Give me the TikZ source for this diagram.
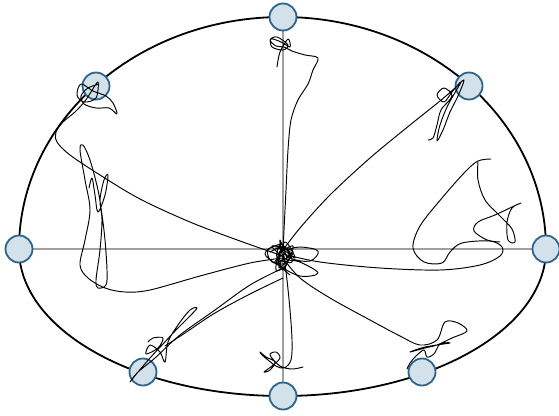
\documentclass[tikz,border=0pt]{standalone}
\begin{document}
\begin{tikzpicture}[x=1pt,y=-1pt,
  walk/.style={line width=0.95pt, line join=round, line cap=round},
  outline/.style={line width=1.8pt},
  axis/.style={line width=1.7pt, draw={rgb,255:red,160;green,160;blue,160}},
  station/.style={circle, minimum size=27pt, inner sep=0pt, line width=1.8pt,
     draw={rgb,255:red,45;green,100;blue,138}, fill={rgb,255:red,211;green,225;blue,235}}]
\useasboundingbox (0,0) rectangle (559,415);
% outline
\draw[outline] (19,249) arc[start angle=180, end angle=0, x radius=263.5pt, y radius=232pt];
\draw[outline] (19,249) arc[start angle=180, end angle=360, x radius=263.5pt, y radius=147pt];
% axes
\coordinate (c) at (283,249);
\draw[axis] (19,249) -- (546,249);
\draw[axis] (283,17) -- (283,396);
% stations
\node[station] (n) at (283,17) {};
\node[station] (nw) at (96,86) {};
\node[station] (ne) at (469,86) {};
\node[station] (w) at (19,249) {};
\node[station] (e) at (546,249) {};
\node[station] (sw) at (143,372) {};
\node[station] (s) at (283,396) {};
\node[station] (se) at (422,372) {};
% walks
% top
\draw[walk] plot[smooth, tension=0.55] coordinates {(283,250) (284,230) (286,190) (288,150) (291,120) (298,100) (308,84) (313,70) (318,58) (305,55) (292,51) (284,47) (276,46) (270,40) (277,37) (288,45) (283,50) (272,47) (271,39) (281,42) (290,47) (288,39) (280,52) (277,67)};
% upper right
\draw[walk] plot[smooth, tension=0.55] coordinates {(283,250) (300,228) (330,195) (370,158) (410,125) (440,101) (455,88) (464,80) (458,96) (450,112) (443,130) (437,141) (440,125) (448,105) (461,82) (452,92) (444,102) (437,95) (444,88) (452,96) (441,110) (437,125) (433,138) (428,140)};
% upper left
\draw[walk] plot[smooth, tension=0.55] coordinates {(283,256) (240,241) (190,222) (140,199) (100,175) (70,155) (57,142) (56,132) (63,122) (75,112) (85,101) (91,92) (98,82) (96,98) (84,102) (77,95) (81,84) (93,91) (106,96) (113,103) (117,114) (109,108) (96,108) (84,104) (81,96) (88,88) (99,84)};
% left
\draw[walk] plot[smooth, tension=0.55] coordinates {(283,258) (250,263) (200,276) (150,290) (125,292) (105,288) (88,278) (80,265) (85,240) (90,210) (85,180) (80,150) (83,145) (90,160) (98,190) (102,215) (105,240) (107,270) (106,285) (98,288) (96,280) (100,250) (102,220) (100,200) (104,180) (108,175) (105,195) (98,212) (95,195) (92,178) (89,188)};
% right
\draw[walk] plot[smooth, tension=0.55] coordinates {(283,254) (320,262) (380,268) (440,270) (480,265) (500,256) (502,247) (490,241) (462,243) (450,252) (442,263) (424,262) (413,248) (420,226) (442,198) (465,172) (478,161) (491,159)};
\draw[walk] plot[smooth, tension=0.55] coordinates {(478,162) (478,180) (485,200) (500,216) (512,229) (515,242) (508,240) (507,222) (512,208) (521,203) (512,207) (495,215) (478,222) (474,231) (487,240) (500,242)};
% lower right
\draw[walk] plot[smooth, tension=0.55] coordinates {(283,258) (300,278) (330,298) (370,320) (400,336) (420,345) (437,340) (445,322) (458,323) (467,331) (452,338) (437,345) (425,348) (410,352) (425,347) (450,343) (440,344) (434,354) (427,357) (424,350) (416,356) (410,363) (407,369)};
% bottom
\draw[walk] plot[smooth, tension=0.55] coordinates {(284,256) (287,280) (290,310) (292,340) (291,360) (284,368) (276,366) (268,360) (262,355) (260,352) (266,357) (275,362) (270,370) (264,372) (272,366) (280,358) (276,352) (270,355) (280,366) (292,369) (303,367)};
% lower left
\draw[walk] plot[smooth, tension=0.55] coordinates {(283,268) (250,285) (215,310) (180,335) (155,358) (138,372) (130,382) (138,372) (150,358) (163,344) (176,330) (190,316) (197,308) (190,310) (178,325) (168,342) (165,362) (160,352) (150,345) (146,354) (158,348) (163,338) (153,338) (148,342)};
\draw[walk] plot[smooth, tension=0.55] coordinates {(283,278) (250,294) (215,313) (185,333) (165,346)};
% centre tangle
\draw[walk] plot[smooth cycle, tension=0.6] coordinates {(283,250) (300,247) (318,251) (310,261) (290,258) (276,246) (265,254) (278,265) (300,276) (318,273) (300,262) (284,258) (280,240) (287,262) (272,262) (268,250) (282,244)};
\draw[walk] plot[smooth, tension=0.6] coordinates {(275,248) (290,252) (283,270) (278,256) (293,246) (286,265) (276,270) (281,250) (295,258) (285,242) (279,262) (290,275)};
\draw[walk] plot[smooth, tension=0.6] coordinates {(270,252) (285,247) (292,262) (277,258) (281,244) (289,256) (274,263) (284,254) (279,268) (293,252) (272,246) (285,259)};
\end{tikzpicture}
\end{document}
